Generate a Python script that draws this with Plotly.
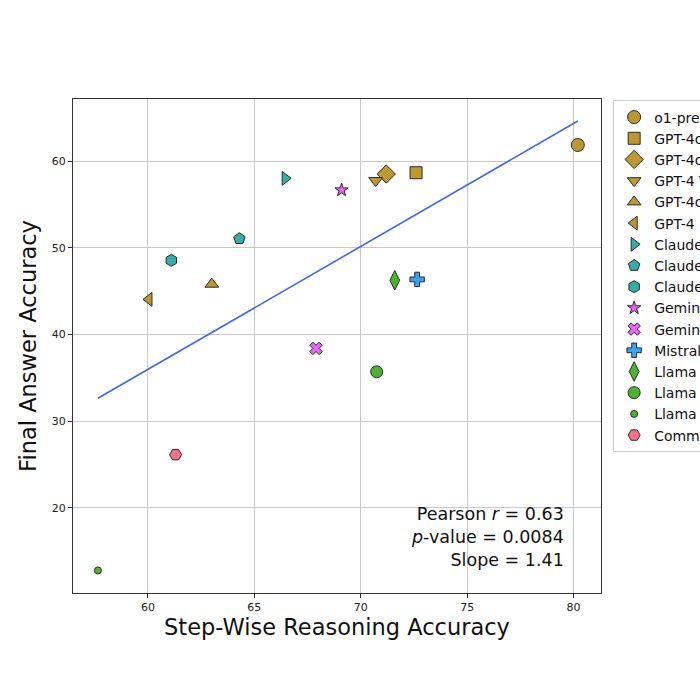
import numpy as np
import plotly.graph_objects as go

models = ["o1-preview", "GPT-4o-2024-08-06", "GPT-4o-2024-05-13", "GPT-4 Turbo", "GPT-4o-mini", "GPT-4",
          "Claude 3.5 Sonnet", "Claude 3 Opus", "Claude 3 Haiku", "Gemini 1.5 Pro", "Gemini 1.5 Flash",
          "Mistral Large", "Llama 3.1 405B", "Llama 3.1 70B", "Llama 3.1 8B", "Command R+"]
step_acc = [80.2, 72.6, 71.2, 70.7, 63.0, 60.05, 66.45, 64.3, 61.1, 69.1, 67.9, 72.65, 71.6, 70.75, 57.65, 61.3]
final_acc = [61.85, 58.65, 58.5, 57.75, 45.8, 44.05, 58.0, 51.05, 48.55, 56.65, 38.4, 46.35, 46.25, 35.7, 12.8, 26.15]
symbols = ["circle", "square", "diamond", "triangle-down", "triangle-up", "triangle-left",
           "triangle-right", "pentagon", "hexagon", "star", "x", "cross", "diamond-tall",
           "circle", "circle", "hexagon2"]
colors = ["#bb9832"] * 6 + ["#36ada4"] * 3 + ["#e866f4"] * 2 + ["#3ba3ec"] + ["#50b131"] * 3 + ["#f77189"]
sizes = [13, 12, 14, 12, 12, 12, 12, 12, 12, 10, 11, 12, 14, 12, 7, 12]
stats_lines = ["Pearson <i>r</i> = 0.63", "<i>p</i>-value = 0.0084", "Slope = 1.41"]

fig = go.Figure()
for m, x, y, s, c, sz in zip(models, step_acc, final_acc, symbols, colors, sizes):
    fig.add_trace(go.Scatter(x=[x], y=[y], mode="markers", name=m,
                             marker=dict(symbol=s, color=c, size=sz,
                                         line=dict(color="#2b2b2b", width=1))))

xa = np.array(step_acc)
ya = np.array(final_acc)
slope, intercept = np.polyfit(xa, ya, 1)
xl = np.array([xa.min(), xa.max()])
fig.add_trace(go.Scatter(x=xl, y=slope * xl + intercept, mode="lines", showlegend=False,
                         line=dict(color="#4169e1", width=1.6), hoverinfo="skip"))

fig.add_annotation(x=0.934, y=0.042, xref="paper", yref="paper", xanchor="right", yanchor="bottom",
                   align="right", showarrow=False, text="<br>".join(stats_lines),
                   font=dict(size=17.5, color="#111", family="DejaVu Sans"))

fig.update_layout(
    width=700, height=700,
    margin=dict(l=73, r=99, t=99, b=107, autoexpand=False),
    paper_bgcolor="white", plot_bgcolor="white",
    font=dict(family="DejaVu Sans", color="#222"),
    legend=dict(x=1.023, y=0.997, xanchor="left", yanchor="top",
                bordercolor="#cccccc", borderwidth=1, font=dict(size=14, color="#111"),
                tracegroupgap=0, itemsizing="trace"),
    xaxis=dict(range=[56.48, 81.29], tickvals=[60, 65, 70, 75, 80], showgrid=True,
               gridcolor="#c8c8c8", gridwidth=1, zeroline=False, showline=True, mirror=True,
               linecolor="#333", linewidth=1, ticks="outside", ticklen=4, tickcolor="#333",
               tickfont=dict(size=11, color="#222"),
               title=dict(text="Step-Wise Reasoning Accuracy", font=dict(size=22.5, color="#111"), standoff=6)),
    yaxis=dict(range=[10.2, 67.15], tickvals=[20, 30, 40, 50, 60], showgrid=True,
               gridcolor="#c8c8c8", gridwidth=1, zeroline=False, showline=True, mirror=True,
               linecolor="#333", linewidth=1, ticks="outside", ticklen=4, tickcolor="#333",
               tickfont=dict(size=11, color="#222"),
               title=dict(text="Final Answer Accuracy", font=dict(size=22.5, color="#111"), standoff=8)),
)
fig.write_html("out.html")
